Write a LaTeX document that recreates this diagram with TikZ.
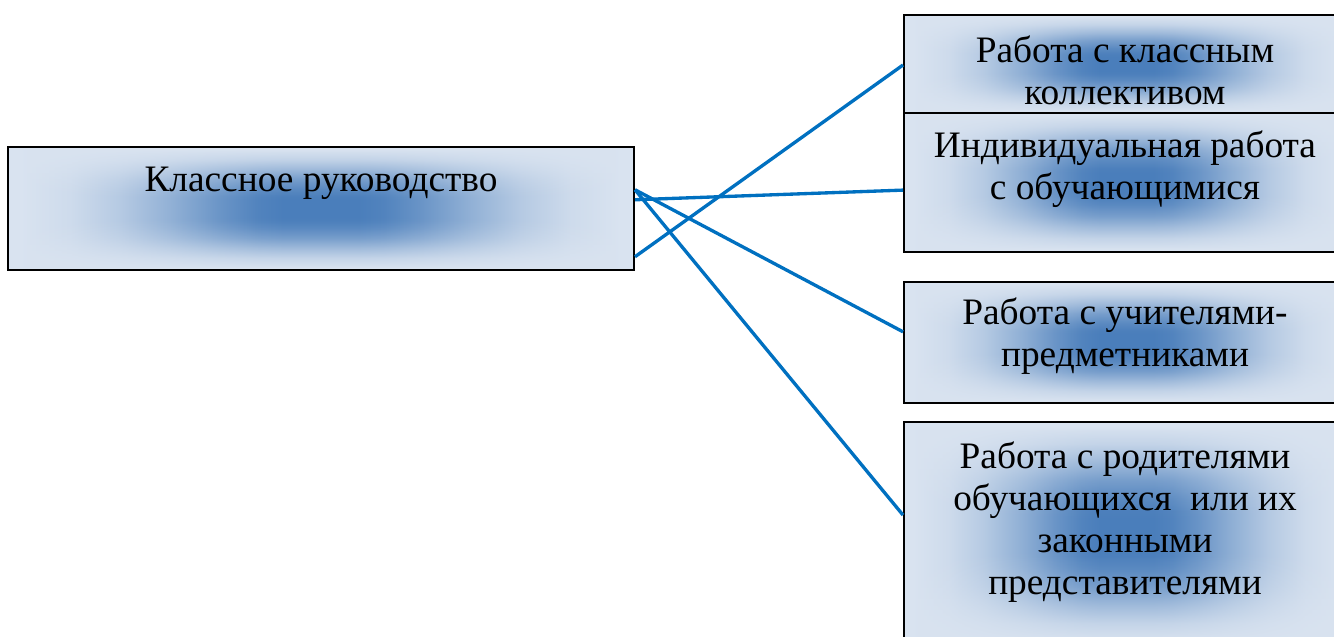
\documentclass[tikz,border=0pt]{standalone}
\usepackage{fontspec}
\setmainfont{Liberation Serif}
\usetikzlibrary{calc,fit,fadings}
\definecolor{gdark}{HTML}{4A7EBB}
\definecolor{glight}{HTML}{D9E3F0}
\definecolor{lnblue}{HTML}{0070C0}
\pgfdeclarehorizontalshading{hbump}{100bp}{color(0bp)=(glight); color(26bp)=(glight);
  color(30bp)=(gdark!8!glight); color(34bp)=(gdark!25!glight); color(38bp)=(gdark!50!glight);
  color(42bp)=(gdark!78!glight); color(45bp)=(gdark!95!glight);
  color(47bp)=(gdark); color(53bp)=(gdark);
  color(55bp)=(gdark!95!glight); color(58bp)=(gdark!78!glight); color(62bp)=(gdark!50!glight);
  color(66bp)=(gdark!25!glight); color(70bp)=(gdark!8!glight);
  color(74bp)=(glight); color(100bp)=(glight)}
\pgfdeclareverticalshading{vbumpsh}{100bp}{color(0bp)=(black); color(26bp)=(black);
  color(30bp)=(white!15!black); color(34bp)=(white!40!black); color(38bp)=(white!68!black);
  color(42bp)=(white!88!black); color(45bp)=(white!98!black);
  color(47bp)=(white); color(53bp)=(white);
  color(55bp)=(white!98!black); color(58bp)=(white!88!black); color(62bp)=(white!68!black);
  color(66bp)=(white!40!black); color(70bp)=(white!15!black);
  color(74bp)=(black); color(100bp)=(black)}
\pgfdeclarefading{vbump}{\pgfuseshading{vbumpsh}}
\tikzset{
 gbox/.style={draw=black, line width=1.5pt, inner sep=0pt, path picture={
   \fill[glight] (path picture bounding box.south west) rectangle (path picture bounding box.north east);
   \shade[shading=hbump, path fading=vbump] (path picture bounding box.south west) rectangle (path picture bounding box.north east);
   }},
 lbl/.style={align=center, font=\fontsize{28}{31.5}\selectfont, inner sep=0pt},
 conn/.style={draw=lnblue, line width=2.5pt}
}
\begin{document}
\begin{tikzpicture}[x=0.75pt, y=-0.75pt]
\useasboundingbox (0,0) rectangle (1334,636);
\clip (0,0) rectangle (1334,636);
\node[gbox, fit={(8,147) (634,270)}] (b0) {};
\node[gbox, fit={(904,15) (1350,113)}] (b1) {};
\node[gbox, fit={(904,113) (1350,252)}] (b2) {};
\node[gbox, fit={(904,282) (1350,403)}] (b3) {};
\node[gbox, fit={(904,422) (1350,645)}] (b4) {};
\node[lbl] (t0) at (321,183) {Классное руководство};
\node[lbl] (t1) at (1125,70) {Работа с классным\\коллективом};
\node[lbl] (t2) at (1125,169) {Индивидуальная работа\\с обучающимися};
\node[lbl] (t3) at (1125,336) {Работа с учителями-\\предметниками};
\node[lbl] (t4) at (1125,522) {Работа с родителями\\обучающихся~ или их\\законными\\представителями};
\draw[conn] ($(b0.north east)!0.886!(b0.south east)$) -- ($(b1.north west)!0.51!(b1.south west)$);
\draw[conn] ($(b0.north east)!0.43!(b0.south east)$) -- ($(b2.north west)!0.554!(b2.south west)$);
\draw[conn] ($(b0.north east)!0.35!(b0.south east)$) -- ($(b3.north west)!0.413!(b3.south west)$);
\draw[conn] ($(b0.north east)!0.35!(b0.south east)$) -- ($(b4.north west)!0.418!(b4.south west)$);
\end{tikzpicture}
\end{document}
